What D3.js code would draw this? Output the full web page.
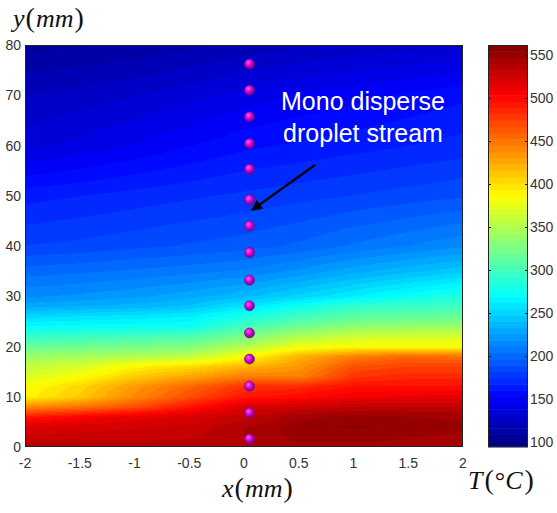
<!DOCTYPE html>
<html>
<head>
<meta charset="utf-8">
<script src="https://cdn.jsdelivr.net/npm/d3@7"></script>
<style>
body { margin: 0; background: #fff; }
svg text { font-family: Arial, "Liberation Sans", sans-serif; }
.tick-label { font-size: 14px; fill: #333; }
.math { font-family: "Times New Roman", "Liberation Serif", serif; font-size: 26px; fill: #111; }
</style>
</head>
<body>
<div id="chart"></div>
<script>
// Grid of the temperature field (degC)
var xCols = [-2, -1.5, -1, -0.5, 0, 0.5, 1, 1.5, 2];
var yRows = [0, 2, 4, 6, 8, 10, 12, 14, 16, 18, 20, 22, 24, 26, 28, 30, 35, 40, 50, 60, 70, 80];
var tempRows = [
	[539, 538, 537, 536, 540, 545, 545, 545, 545],
	[527, 528, 530, 532, 540, 550, 550, 548, 545],
	[520, 522, 524, 527, 540, 552, 556, 553, 550],
	[492, 505, 515, 520, 530, 545, 550, 548, 545],
	[440, 450, 468, 495, 520, 526, 533, 533, 533],
	[390, 410, 440, 468, 494, 500, 509, 512, 515],
	[386, 405, 433, 457, 482, 486, 497, 497, 497],
	[369, 385, 410, 427, 447, 445, 480, 486, 486],
	[357, 369, 390, 403, 420, 433, 468, 474, 474],
	[340, 345, 350, 356, 385, 421, 445, 457, 451],
	[316, 320, 324, 328, 350, 378, 386, 386, 386],
	[293, 296, 300, 304, 325, 350, 363, 367, 369],
	[270, 272, 274, 276, 300, 320, 334, 338, 340],
	[252, 255, 258, 262, 280, 298, 310, 314, 316],
	[230, 233, 236, 242, 258, 276, 293, 296, 298],
	[217, 220, 224, 230, 238, 250, 262, 274, 284],
	[200, 202, 205, 208, 212, 220, 230, 238, 245],
	[182, 184, 187, 190, 193, 198, 205, 211, 217],
	[164, 167, 170, 173, 176, 179, 182, 185, 188],
	[135, 140, 146, 152, 158, 161, 164, 167, 170],
	[123, 126, 130, 135, 141, 146, 150, 154, 158],
	[106, 108, 110, 114, 118, 122, 125, 127, 129]
];

// Droplet stream positions (mm)
var dropX = 0.05;
var dropY = [1.6, 6.8, 12.1, 17.5, 22.7, 28.1, 33.2, 38.7, 44.0, 49.2, 55.3, 60.4, 65.7, 71.0, 76.2];

var xTicks = [-2, -1.5, -1, -0.5, 0, 0.5, 1, 1.5, 2];
var yTicks = [0, 10, 20, 30, 40, 50, 60, 70, 80];
var cTicks = [100, 150, 200, 250, 300, 350, 400, 450, 500, 550];
var cDomain = [94, 562];

var W = 557, H = 513;
var plot = {left: 25, right: 463, top: 45, bottom: 447};
var cbar = {left: 488, right: 528};

var xScale = d3.scaleLinear().domain([-2, 2]).range([plot.left, plot.right]);
var yScale = d3.scaleLinear().domain([0, 80]).range([plot.bottom, plot.top]);
var cScale = d3.scaleLinear().domain(cDomain).range([plot.bottom, plot.top]);

// MATLAB jet, 64 levels
var nLevels = 64;
function jet(t) {
	var c = function(v) { return Math.max(0, Math.min(1, v)); };
	var r = c(Math.min(4 * t - 1.5, -4 * t + 4.5));
	var g = c(Math.min(4 * t - 0.5, -4 * t + 3.5));
	var b = c(Math.min(4 * t + 0.5, -4 * t + 2.5));
	return [Math.round(r * 255), Math.round(g * 255), Math.round(b * 255)];
}
function tempColor(T) {
	var t = (T - cDomain[0]) / (cDomain[1] - cDomain[0]);
	var idx = Math.max(0, Math.min(nLevels - 1, Math.floor(t * nLevels)));
	return jet((idx + 0.5) / nLevels);
}

// bilinear lookup in the grid
var bisectY = d3.bisector(function(d) { return d; }).right;
function sample(xmm, ymm) {
	var fx = (xmm - xCols[0]) / (xCols[1] - xCols[0]);
	var i = Math.max(0, Math.min(xCols.length - 2, Math.floor(fx)));
	var tx = Math.max(0, Math.min(1, fx - i));
	var j = Math.max(0, Math.min(yRows.length - 2, bisectY(yRows, ymm) - 1));
	var ty = Math.max(0, Math.min(1, (ymm - yRows[j]) / (yRows[j + 1] - yRows[j])));
	var a = tempRows[j][i] * (1 - tx) + tempRows[j][i + 1] * tx;
	var b = tempRows[j + 1][i] * (1 - tx) + tempRows[j + 1][i + 1] * tx;
	return a * (1 - ty) + b * ty;
}

var svg = d3.select("#chart").append("svg")
	.attr("width", W)
	.attr("height", H);

// Field image drawn on a canvas, then placed in the svg
var pw = plot.right - plot.left, ph = plot.bottom - plot.top;
var canvas = document.createElement("canvas");
canvas.width = pw;
canvas.height = ph;
var ctx = canvas.getContext("2d");
var img = ctx.createImageData(pw, ph);
for (var py = 0; py < ph; py++) {
	var ymm = yScale.invert(plot.top + py + 0.5);
	for (var px = 0; px < pw; px++) {
		var xmm = xScale.invert(plot.left + px + 0.5);
		var col = tempColor(sample(xmm, ymm));
		var k = (py * pw + px) * 4;
		img.data[k] = col[0];
		img.data[k + 1] = col[1];
		img.data[k + 2] = col[2];
		img.data[k + 3] = 255;
	}
}
ctx.putImageData(img, 0, 0);

svg.append("image")
	.attr("x", plot.left)
	.attr("y", plot.top)
	.attr("width", pw)
	.attr("height", ph)
	.attr("preserveAspectRatio", "none")
	.attr("href", canvas.toDataURL());

svg.append("rect")
	.attr("x", plot.left + 0.5)
	.attr("y", plot.top + 0.5)
	.attr("width", pw - 1)
	.attr("height", ph - 1)
	.attr("fill", "none")
	.attr("stroke", "#222")
	.attr("stroke-width", 1);

// Tick labels
svg.append("g").selectAll("text")
	.data(xTicks)
	.enter().append("text")
		.attr("class", "tick-label")
		.attr("x", function(d) { return xScale(d); })
		.attr("y", 468)
		.attr("text-anchor", "middle")
		.text(function(d) { return d; });

svg.append("g").selectAll("text")
	.data(yTicks)
	.enter().append("text")
		.attr("class", "tick-label")
		.attr("x", 21)
		.attr("y", function(d) { return yScale(d) + 5; })
		.attr("text-anchor", "end")
		.text(function(d) { return d; });

// Droplets
var grad = svg.append("defs").append("radialGradient")
	.attr("id", "drop")
	.attr("cx", "40%").attr("cy", "35%").attr("r", "65%");
grad.append("stop").attr("offset", "0%").attr("stop-color", "#ff55ff");
grad.append("stop").attr("offset", "55%").attr("stop-color", "#cc00cc");
grad.append("stop").attr("offset", "100%").attr("stop-color", "#7a0080");

svg.append("g").selectAll("circle")
	.data(dropY)
	.enter().append("circle")
		.attr("cx", xScale(dropX))
		.attr("cy", function(d) { return yScale(d); })
		.attr("r", 5)
		.attr("fill", "url(#drop)")
		.attr("stroke", "#6a0a7a")
		.attr("stroke-width", 0.6);

// Annotation
var note = svg.append("text")
	.attr("x", 363)
	.attr("y", 110)
	.attr("text-anchor", "middle")
	.attr("fill", "#fff")
	.style("font-size", "25px");
note.append("tspan").attr("x", 363).text("Mono disperse");
note.append("tspan").attr("x", 363).attr("dy", 32).text("droplet stream");

svg.append("defs").append("marker")
	.attr("id", "arrow")
	.attr("viewBox", "0 0 10 10")
	.attr("refX", 9).attr("refY", 5)
	.attr("markerWidth", 5).attr("markerHeight", 5)
	.attr("orient", "auto")
	.append("path")
		.attr("d", "M0,0L10,5L0,10z")
		.attr("fill", "#000");

svg.append("line")
	.attr("x1", 315).attr("y1", 165)
	.attr("x2", 252).attr("y2", 210)
	.attr("stroke", "#000")
	.attr("stroke-width", 2.2)
	.attr("marker-end", "url(#arrow)");

// Colorbar
var levels = d3.range(nLevels);
var step = (cDomain[1] - cDomain[0]) / nLevels;
svg.append("g").selectAll("rect")
	.data(levels)
	.enter().append("rect")
		.attr("x", cbar.left)
		.attr("width", cbar.right - cbar.left)
		.attr("y", function(d) { return cScale(cDomain[0] + (d + 1) * step); })
		.attr("height", function(d) { return cScale(cDomain[0] + d * step) - cScale(cDomain[0] + (d + 1) * step) + 0.5; })
		.attr("fill", function(d) { var c = jet((d + 0.5) / nLevels); return d3.rgb(c[0], c[1], c[2]); });

svg.append("rect")
	.attr("x", cbar.left + 0.5)
	.attr("y", plot.top + 0.5)
	.attr("width", cbar.right - cbar.left - 1)
	.attr("height", ph - 1)
	.attr("fill", "none")
	.attr("stroke", "#222");

var ct = svg.append("g").selectAll("g")
	.data(cTicks)
	.enter().append("g");
ct.append("line")
	.attr("x1", cbar.left).attr("x2", cbar.left + 3)
	.attr("y1", function(d) { return Math.round(cScale(d)) + 0.5; })
	.attr("y2", function(d) { return Math.round(cScale(d)) + 0.5; })
	.attr("stroke", "#222");
ct.append("line")
	.attr("x1", cbar.right - 3).attr("x2", cbar.right)
	.attr("y1", function(d) { return Math.round(cScale(d)) + 0.5; })
	.attr("y2", function(d) { return Math.round(cScale(d)) + 0.5; })
	.attr("stroke", "#222");
ct.append("text")
	.attr("class", "tick-label")
	.attr("x", cbar.right + 2)
	.attr("y", function(d) { return cScale(d) + 5; })
	.text(function(d) { return d; });

// Axis titles
function mathLabel(x, y, parts) {
	var t = svg.append("text")
		.attr("class", "math")
		.attr("x", x)
		.attr("y", y);
	parts.forEach(function(p) {
		var s = t.append("tspan").text(p.s);
		if (p.italic) s.style("font-style", "italic");
		if (p.size) s.style("font-size", p.size + "px");
		if (p.dx) s.attr("dx", p.dx);
	});
	return t;
}
mathLabel(13, 27, [
	{s: "y", italic: true},
	{s: "(", size: 28, dx: 1},
	{s: "mm", italic: true, dx: 1},
	{s: ")", size: 28, dx: 1}
]);
mathLabel(222, 497, [
	{s: "x", italic: true},
	{s: "(", size: 28, dx: 1},
	{s: "mm", italic: true, dx: 1},
	{s: ")", size: 28, dx: 1}
]);
mathLabel(468, 489, [
	{s: "T", italic: true},
	{s: "(", size: 28, dx: 2},
	{s: "\u00b0", dx: 1},
	{s: "C", italic: true},
	{s: ")", size: 28, dx: 2}
]);
</script>
</body>
</html>
